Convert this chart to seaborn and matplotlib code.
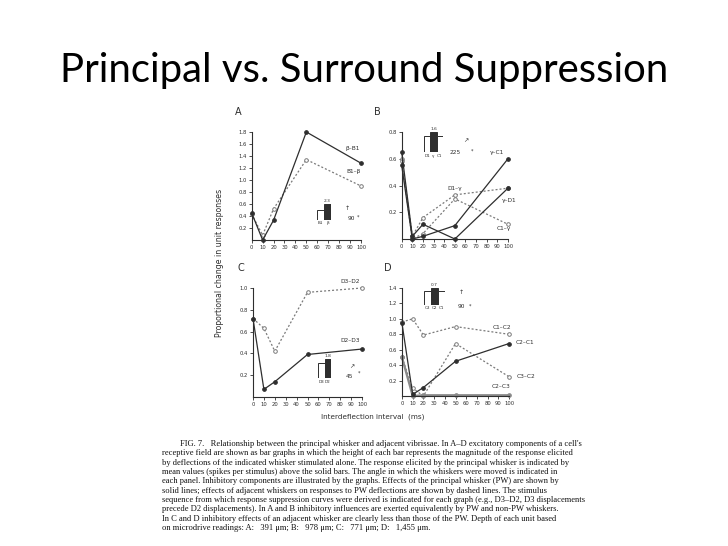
import numpy as np
import pandas as pd
import matplotlib
matplotlib.use("Agg")
import matplotlib.pyplot as plt
import seaborn as sns

# --- datos ---
x_ms = [0, 10, 20, 50, 100]
x_ticks = [0, 10, 20, 30, 40, 50, 60, 70, 80, 90, 100]

# Panel A
a_beta_b1 = [0.45, 0.00, 0.33, 1.80, 1.28]
a_b1_beta = [0.43, 0.08, 0.52, 1.34, 0.90]
# Panel B
b_gamma_c1 = [0.55, 0.00, 0.02, 0.10, 0.60]
b_gamma_d1 = [0.65, 0.02, 0.11, 0.00, 0.38]
b_d1_gamma = [0.60, 0.02, 0.16, 0.33, 0.38]
b_c1_gamma = [0.58, 0.00, 0.04, 0.30, 0.11]
# Panel C
c_d3_d2 = [0.72, 0.63, 0.42, 0.96, 1.00]
c_d2_d3 = [0.72, 0.07, 0.14, 0.39, 0.44]
# Panel D
d_c1_c2 = [0.96, 1.00, 0.79, 0.90, 0.80]
d_c2_c1 = [0.94, 0.02, 0.11, 0.45, 0.68]
d_c3_c2 = [0.50, 0.10, 0.00, 0.68, 0.25]
d_c2_c3 = [0.50, 0.00, 0.01, 0.01, 0.01]

# barras insertadas (respuesta excitatoria, espigas por estimulo)
a_bar_labels = ["B1", "β"]
a_bar_vals = [1.45, 2.3]
b_bar_labels = ["D1", "γ", "C1"]
b_bar_vals = [1.25, 1.6, 1.25]
c_bar_labels = ["D3", "D2"]
c_bar_vals = [1.42, 1.8]
d_bar_labels = ["C3", "C2", "C1"]
d_bar_vals = [0.56, 0.7, 0.56]

angles = ["90", "225", "45", "90"]

caption_lines = [
    "FIG. 7.   Relationship between the principal whisker and adjacent vibrissae. In A–D excitatory components of a cell's",
    "receptive field are shown as bar graphs in which the height of each bar represents the magnitude of the response elicited",
    "by deflections of the indicated whisker stimulated alone. The response elicited by the principal whisker is indicated by",
    "mean values (spikes per stimulus) above the solid bars. The angle in which the whiskers were moved is indicated in",
    "each panel. Inhibitory components are illustrated by the graphs. Effects of the principal whisker (PW) are shown by",
    "solid lines; effects of adjacent whiskers on responses to PW deflections are shown by dashed lines. The stimulus",
    "sequence from which response suppression curves were derived is indicated for each graph (e.g., D3–D2, D3 displacements",
    "precede D2 displacements). In A and B inhibitory influences are exerted equivalently by PW and non-PW whiskers.",
    "In C and D inhibitory effects of an adjacent whisker are clearly less than those of the PW. Depth of each unit based",
    "on microdrive readings: A:   391 μm; B:   978 μm; C:   771 μm; D:   1,455 μm.",
]

sns.set_theme(style="white")
plt.rcParams['font.family'] = ['DejaVu Sans']

INK = "#2e2e2e"
GREY = "#7a7a7a"
W, H = 728, 546

fig = plt.figure(figsize=(W / 100, H / 100), dpi=100)
fig.patch.set_facecolor("white")


def px_axes(x0, x1, y_top, y_bot):
    return fig.add_axes([x0 / W, 1 - y_bot / H, (x1 - x0) / W, (y_bot - y_top) / H])


def draw_line(ax, vals, solid=True, lw=0.9, color=None):
    df = pd.DataFrame({"ms": x_ms, "resp": vals})
    if solid:
        sns.lineplot(data=df, x="ms", y="resp", ax=ax, color=color or INK, lw=lw,
                     marker="o", markersize=2.6, markerfacecolor=color or INK,
                     markeredgecolor=color or INK, clip_on=False)
    else:
        sns.lineplot(data=df, x="ms", y="resp", ax=ax, color=color or GREY, lw=lw,
                     linestyle=(0, (1.6, 1.6)), marker="o", markersize=2.6,
                     markerfacecolor="white", markeredgecolor=GREY,
                     markeredgewidth=0.7, clip_on=False)


def style_panel(ax, ymax):
    ax.set_xlim(0, 100)
    ax.set_ylim(0, ymax)
    ax.set_xlabel("")
    ax.set_ylabel("")
    ax.set_facecolor("none")
    yt = np.round(np.arange(0.2, ymax + 0.01, 0.2), 1)
    ax.set_yticks(yt)
    ax.set_yticklabels([f"{v:.1f}" for v in yt])
    ax.set_xticks(x_ticks)
    ax.set_xticklabels([str(v) for v in x_ticks])
    sns.despine(ax=ax)
    for s in ["left", "bottom"]:
        ax.spines[s].set_color(INK)
        ax.spines[s].set_linewidth(0.8)
    ax.tick_params(axis="both", direction="out", length=2, width=0.6, pad=1.5,
                   labelsize=3.8, colors=INK, left=True, bottom=True)


def draw_bars(x0, x1, y_bot, h_px, labels, vals, value_txt):
    vmax = max(vals)
    ax = px_axes(x0, x1, y_bot - h_px, y_bot)
    df = pd.DataFrame({"w": labels, "v": vals})
    sns.barplot(data=df, x="w", y="v", ax=ax, width=1.0, color="white",
                edgecolor=INK, linewidth=0.7)
    idx = int(np.argmax(vals))
    for i, p in enumerate(ax.patches):
        p.set_facecolor(INK if i == idx else "white")
    ax.set_ylim(0, vmax)
    ax.axis("off")
    ax.text(idx, vmax * 1.04, value_txt, ha="center", va="bottom", fontsize=3.2, color=INK)
    for i, lab in enumerate(labels):
        ax.text(i, -vmax * 0.08, lab, ha="center", va="top", fontsize=3.0, color=INK)
    return ax


# --- titulo de la diapositiva ---
fig.text(364.5 / W, 1 - 82 / H, "Principal vs. Surround Suppression", ha="center",
         va="baseline", fontsize=28.9, family=["Lato", "DejaVu Sans"], color="black")

# --- panel A ---
axA = px_axes(251.7, 361, 132, 240)
draw_line(axA, a_b1_beta, solid=False)
draw_line(axA, a_beta_b1, solid=True)
style_panel(axA, 1.8)
axA.text(86, 1.53, "β–B1", fontsize=4.2, color=INK, va="center")
axA.text(87, 1.14, "B1–β", fontsize=4.2, color=INK, va="center")

# --- panel B ---
axB = px_axes(401.7, 508, 132, 239)
draw_line(axB, b_d1_gamma, solid=False)
draw_line(axB, b_c1_gamma, solid=False)
draw_line(axB, b_gamma_c1, solid=True)
draw_line(axB, b_gamma_d1, solid=True)
style_panel(axB, 0.8)
axB.text(83, 0.65, "γ–C1", fontsize=4.2, color=INK, va="center")
axB.text(43, 0.38, "D1–γ", fontsize=4.2, color=INK, va="center")
axB.text(94, 0.29, "γ–D1", fontsize=4.2, color=INK, va="center")
axB.text(89, 0.08, "C1–γ", fontsize=4.2, color=INK, va="center")

# --- panel C ---
axC = px_axes(253, 362, 288, 397)
draw_line(axC, c_d3_d2, solid=False)
draw_line(axC, c_d2_d3, solid=True)
style_panel(axC, 1.0)
axC.text(80, 1.06, "D3–D2", fontsize=4.2, color=INK, va="center")
axC.text(80, 0.52, "D2–D3", fontsize=4.2, color=INK, va="center")

# --- panel D ---
axD = px_axes(402, 509, 288, 396)
draw_line(axD, d_c1_c2, solid=False)
draw_line(axD, d_c3_c2, solid=False)
draw_line(axD, d_c2_c3, solid=True, lw=1.6, color="#8a8a8a")
draw_line(axD, d_c2_c1, solid=True)
style_panel(axD, 1.4)
axD.text(85, 0.89, "C1–C2", fontsize=4.2, color=INK, va="center")
axD.text(106, 0.69, "C2–C1", fontsize=4.2, color=INK, va="center")
axD.text(107, 0.25, "C3–C2", fontsize=4.2, color=INK, va="center")
axD.text(84, 0.12, "C2–C3", fontsize=4.2, color=INK, va="center")

# letras de panel
for lab, (x, y) in zip("ABCD", [(235, 112), (374, 112), (237, 268), (384, 268)]):
    fig.text(x / W, 1 - y / H, lab, fontsize=7, color=INK, ha="left", va="center")

# barras insertadas y angulos
draw_bars(317, 331, 220, 16, a_bar_labels, a_bar_vals, "2.3")
draw_bars(424, 443, 152, 20, b_bar_labels, b_bar_vals, "1.6")
draw_bars(318, 331, 378, 19, c_bar_labels, c_bar_vals, "1.8")
draw_bars(424, 445, 305, 17, d_bar_labels, d_bar_vals, "0.7")

angle_pos = [(351, 218), (455, 152), (349, 376), (461, 306)]
arrow_pos = [(347, 208, "↑"), (466, 141, "↗"), (352, 367, "↗"), (461, 293, "↑")]
star_pos = [(358, 217), (472, 151), (359, 373), (470, 306)]
for a, (x, y), (ax_, ay_, ch), (sx, sy) in zip(angles, angle_pos, arrow_pos, star_pos):
    fig.text(x / W, 1 - y / H, a, fontsize=4.2, color=INK, ha="center", va="center")
    fig.text(ax_ / W, 1 - ay_ / H, ch, fontsize=4.5, color=INK, ha="center", va="center")
    fig.text(sx / W, 1 - sy / H, "*", fontsize=3.5, color=INK, ha="center", va="center")

# etiquetas de ejes comunes
fig.text(220 / W, 1 - 263 / H, "Proportional change in unit responses", rotation=90,
         fontsize=5.6, color=INK, ha="center", va="center")
fig.text(373 / W, 1 - 417 / H, "Interdeflection interval  (ms)", fontsize=5.2,
         color=INK, ha="center", va="center")

# --- leyenda de la figura ---
for i, line in enumerate(caption_lines):
    x0 = 180 if i == 0 else 162
    fig.text(x0 / W, 1 - (444 + i * 9.35) / H, line, fontsize=6.1, color="#111111",
             family=["Liberation Serif", "DejaVu Serif"], ha="left", va="center")

fig.savefig("out.png", dpi=100, facecolor="white")
